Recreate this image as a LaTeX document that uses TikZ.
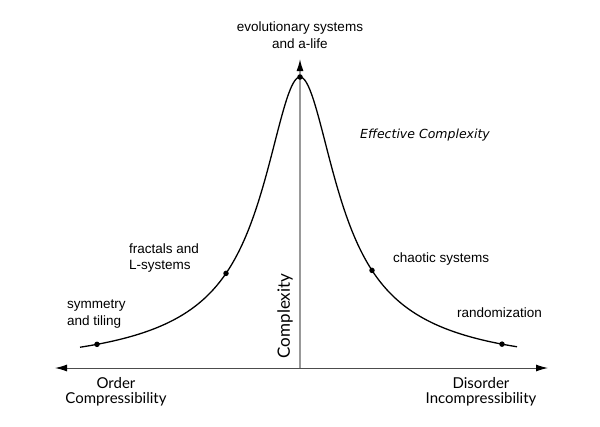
\documentclass[tikz,border=0pt]{standalone}
\usepackage{fontspec}
\setmainfont{Liberation Sans}
\newfontfamily\gillfont{Lato}
\newfontfamily\handfont{DejaVu Sans}
\usetikzlibrary{arrows.meta}
\begin{document}
\begin{tikzpicture}[x=1pt,y=-1pt,
  declare function={hc(\d)=251/(1+(\d/43)^2)+40/(1+(\d/140)^2);},
  axis/.style={-{Latex[length=12pt,width=7pt,color=black]}},
  lbl/.style={font=\fontsize{13.5}{16.5}\selectfont,align=left,inner sep=0pt},
  axlbl/.style={font=\gillfont\fontsize{15}{15}\selectfont,align=center,inner sep=0pt},
  pt/.style={circle,fill=black,inner sep=0pt,minimum size=5.5pt}]
\useasboundingbox (0,0) rectangle (600,426);
% axes
\coordinate (o) at (300,368);
\coordinate (xl) at (55,368);
\coordinate (xr) at (548,368);
\coordinate (yt) at (300,59);
\draw[axis,draw=black!70,line width=1pt] (o) -- (xl);
\draw[axis,draw=black!70,line width=1pt] (o) -- (xr);
\draw[axis,draw=black!40,line width=1.4pt] (o) -- (yt);
% curve
\draw[line width=1.3pt] plot[domain=80:517,samples=300,smooth] (\x,{368-hc(abs(\x-300))});
\node[pt] (p1) at (97,{368-hc(203)}) {};
\node[pt] (p2) at (226,{368-hc(74)}) {};
\node[pt] (p3) at (300,{368-hc(0)}) {};
\node[pt] (p4) at (372,{368-hc(72)}) {};
\node[pt] (p5) at (502,{368-hc(202)}) {};
% labels
\node[lbl,align=center] (evo) at (300,35) {evolutionary systems\\and a-life};
\node[font=\handfont\itshape\fontsize{12.5}{14}\selectfont,inner sep=0pt] (eff) at (425,135) {Effective Complexity};
\node[lbl,anchor=west] (fra) at (129,258) {fractals and\\L-systems};
\node[lbl,anchor=west] (sym) at (67,314) {symmetry\\and tiling};
\node[lbl,anchor=west] (cha) at (393,259) {chaotic systems};
\node[lbl,anchor=west] (ran) at (457,313) {randomization};
\node[font=\gillfont\fontsize{17}{17}\selectfont,inner sep=0pt,rotate=90] (cpx) at (285,316) {Complexity};
\node[axlbl] (ord) at (116,392) {Order\\Compressibility};
\node[axlbl] (dis) at (481,392) {Disorder\\Incompressibility};
\end{tikzpicture}
\end{document}
